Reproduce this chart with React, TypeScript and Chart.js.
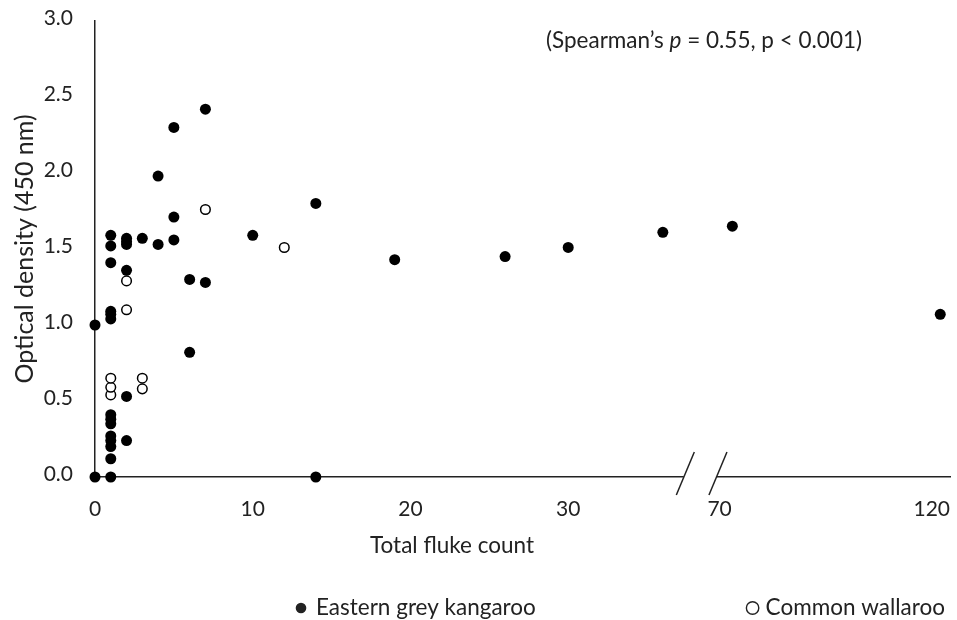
import React, { useEffect, useRef } from "react";
import { Chart, registerables } from "chart.js";

Chart.register(...registerables);

// ---- data ----
const kangarooCount = [
  0, 0,
  1, 1, 1, 1, 1, 1, 1, 1, 1, 1, 1, 1, 1, 1,
  2, 2, 2, 2, 2, 2,
  3,
  4, 4,
  5, 5, 5,
  6, 6,
  7, 7,
  10, 14, 14, 19, 26, 30, 36, 73, 122,
];
const kangarooOD = [
  0, 1.0,
  0, 0.12, 0.2, 0.24, 0.27, 0.35, 0.38, 0.41, 1.04, 1.07, 1.09, 1.41, 1.52, 1.59,
  0.24, 0.53, 1.36, 1.53, 1.55, 1.57,
  1.57,
  1.53, 1.98,
  1.56, 1.71, 2.3,
  0.82, 1.3,
  1.28, 2.42,
  1.59, 0, 1.8, 1.43, 1.45, 1.51, 1.61, 1.65, 1.07,
];
const wallarooCount = [1, 1, 1, 2, 2, 3, 3, 7, 12];
const wallarooOD = [0.54, 0.59, 0.65, 1.1, 1.29, 0.58, 0.65, 1.76, 1.51];

const xTickCounts = [0, 10, 20, 30, 70, 120];
const yMax = 3;
const yStep = 0.5;

const seriesNames = ["Eastern grey kangaroo", "Common wallaroo"];
const xTitle = "Total fluke count";
const yTitle = "Optical density (450 nm)";

// ---- broken x axis mapping ----
const BREAK_AT = 70;
const POS_OF_BREAK_VALUE = 39.6;
const POST_BREAK_SCALE = 0.269;
const BREAK_LEFT_POS = 37.33;
const BREAK_RIGHT_POS = 39.4;
const toAxis = (n: number) =>
  n < BREAK_AT ? n : POS_OF_BREAK_VALUE + (n - BREAK_AT) * POST_BREAK_SCALE;

const FONT = "Lato";
const TEXT = "#222";
const LABEL_SIZE = 22.5;

const overlay = {
  id: "overlay",
  afterDraw(chart: any) {
    const { ctx, scales } = chart;
    const x = scales.x;
    const y = scales.y;
    const axisY = y.getPixelForValue(0);
    ctx.save();
    // axis break
    const b1 = x.getPixelForValue(BREAK_LEFT_POS);
    const b2 = x.getPixelForValue(BREAK_RIGHT_POS);
    ctx.fillStyle = "#fff";
    ctx.fillRect(b1, axisY - 3, b2 - b1, 6);
    ctx.strokeStyle = TEXT;
    ctx.lineWidth = 1.5;
    for (const bx of [b1, b2]) {
      ctx.beginPath();
      ctx.moveTo(bx - 7.5, axisY + 18);
      ctx.lineTo(bx + 10.5, axisY - 25);
      ctx.stroke();
    }

    ctx.fillStyle = TEXT;
    ctx.textBaseline = "middle";
    ctx.textAlign = "left";

    // x axis title
    ctx.font = `${LABEL_SIZE}px ${FONT}`;
    ctx.fillText(xTitle, 370, 546);

    // Spearman annotation
    let tx = 546;
    const ty = 41;
    const parts: [string, boolean][] = [
      ["(Spearman\u2019s ", false],
      ["p", true],
      [" = 0.55, p < 0.001)", false],
    ];
    for (const [s, it] of parts) {
      ctx.font = `${it ? "italic " : ""}${LABEL_SIZE}px ${FONT}`;
      ctx.fillText(s, tx, ty);
      tx += ctx.measureText(s).width;
    }

    // legend
    ctx.font = `${LABEL_SIZE}px ${FONT}`;
    const ly = 608;
    ctx.beginPath();
    ctx.arc(301, ly, 5.3, 0, Math.PI * 2);
    ctx.fill();
    ctx.fillText(seriesNames[0], 316, ly);

    const w2 = ctx.measureText(seriesNames[1]).width;
    const s2 = 945 - w2;
    ctx.fillText(seriesNames[1], s2, ly);
    ctx.beginPath();
    ctx.lineWidth = 1.4;
    ctx.arc(s2 - 13, ly, 6.2, 0, Math.PI * 2);
    ctx.stroke();
    ctx.restore();
  },
};

export default function App() {
  const ref = useRef<HTMLCanvasElement | null>(null);

  useEffect(() => {
    if (!ref.current) return;
    const chart = new Chart(ref.current, {
      type: "scatter",
      data: {
        datasets: [
          {
            label: seriesNames[0],
            data: kangarooCount.map((c, i) => ({ x: toAxis(c), y: kangarooOD[i] })),
            pointRadius: 5.5,
            pointBackgroundColor: "#000",
            pointBorderColor: "#000",
            pointBorderWidth: 0,
            clip: false as any,
          },
          {
            label: seriesNames[1],
            data: wallarooCount.map((c, i) => ({ x: toAxis(c), y: wallarooOD[i] })),
            pointRadius: 4.8,
            pointBackgroundColor: "#fff",
            pointBorderColor: "#000",
            pointBorderWidth: 1.5,
            clip: false as any,
          },
        ],
      },
      options: {
        responsive: false,
        animation: false,
        devicePixelRatio: 1,
        layout: { padding: { top: 21, right: 1, left: 0, bottom: 0 } },
        plugins: {
          legend: { display: false },
          tooltip: { enabled: false },
        },
        scales: {
          x: {
            type: "linear",
            min: 0,
            max: 54.25,
            grid: { display: false, drawTicks: false },
            border: { display: true, color: TEXT, width: 1.5 },
            afterBuildTicks: (scale: any) => {
              scale.ticks = xTickCounts.map((c) => ({ value: toAxis(c) }));
            },
            afterFit: (scale: any) => {
              scale.height = 143;
              scale.paddingLeft = 0;
              scale.paddingRight = 0;
            },
            ticks: {
              autoSkip: false,
              maxRotation: 0,
              padding: 20,
              color: TEXT,
              font: { family: FONT, size: 21 },
              callback: (_v: any, i: number) => String(xTickCounts[i]),
            },
          },
          y: {
            type: "linear",
            min: 0,
            max: yMax,
            grid: { display: false, drawTicks: false },
            border: { display: true, color: TEXT, width: 1.5 },
            afterFit: (scale: any) => {
              scale.width = 95;
              scale.paddingTop = 0;
              scale.paddingBottom = 0;
            },
            title: {
              display: true,
              text: yTitle,
              color: TEXT,
              font: { family: FONT, size: 25 },
              padding: { top: 10, bottom: 0 },
            },
            ticks: {
              stepSize: yStep,
              padding: 22,
              labelOffset: -3,
              color: TEXT,
              font: { family: FONT, size: 21 },
              callback: (v: any) => Number(v).toFixed(1),
            },
          },
        },
      },
      plugins: [overlay],
    });
    return () => chart.destroy();
  }, []);

  return (
    <div style={{ position: "absolute", left: 0, top: 0, width: 957, height: 620, background: "#fff" }}>
      <canvas ref={ref} width={957} height={620} />
    </div>
  );
}
